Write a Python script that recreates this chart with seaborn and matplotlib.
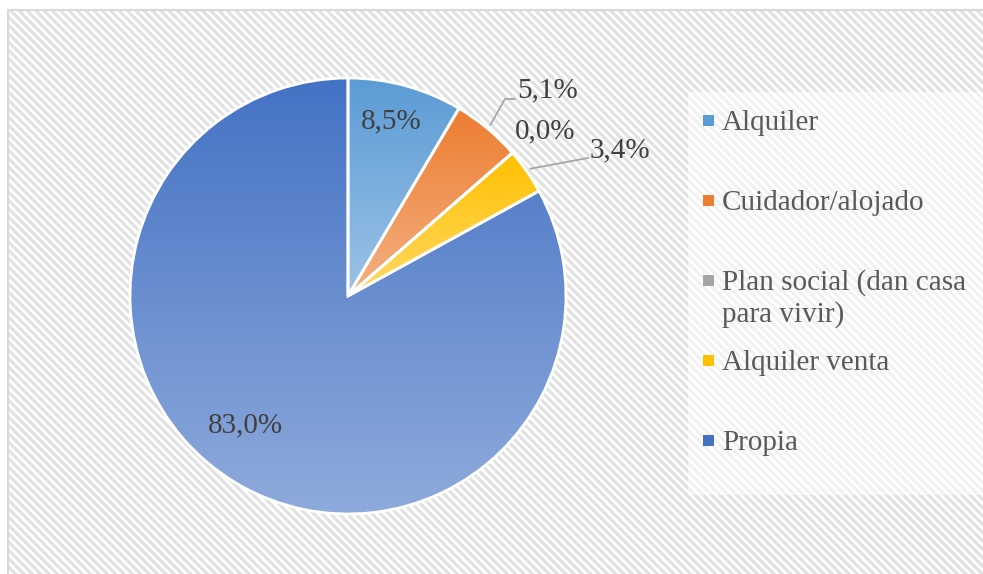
import numpy as np
import matplotlib
matplotlib.use('Agg')
import matplotlib.pyplot as plt
import matplotlib.patches as mpatches
from matplotlib.colors import to_rgb
import seaborn as sns

# Datos ==========================================================================
categories = ['Alquiler', 'Cuidador/alojado', 'Plan social (dan casa\npara vivir)',
              'Alquiler venta', 'Propia']
values = [8.5, 5.1, 0.0, 3.4, 83.0]
pct_labels = ['8,5%', '5,1%', '0,0%', '3,4%', '83,0%']
colors = ['#5B9BD5', '#ED7D31', '#A5A5A5', '#FFC000', '#4472C4']

sns.set_theme(style='white')
plt.rcParams['font.family'] = ['Liberation Serif', 'DejaVu Serif']
plt.rcParams['hatch.linewidth'] = 2.3

W, H = 983, 574
fig = plt.figure(figsize=(W / 100, H / 100), dpi=100)
fig.patch.set_facecolor('white')


def px(x, y):
    # pixel desde arriba-izquierda -> fraccion de figura
    return x / W, 1 - y / H


# Fondo rayado y borde ===========================================================
x0, y0 = px(8, 600)
bg = mpatches.Rectangle((x0, y0), 1.2, (600 - 10) / H, transform=fig.transFigure,
                        facecolor='white', edgecolor='#E2E2E2', hatch='\\\\\\\\', lw=0, zorder=0)
fig.add_artist(bg)
border = mpatches.Rectangle((x0, y0), 1.2, (600 - 10) / H, transform=fig.transFigure,
                            facecolor='none', edgecolor='#D9D9D9', lw=1.5, zorder=0.5)
fig.add_artist(border)

# caja semitransparente de la leyenda
lx, ly = px(688, 495)
fig.add_artist(mpatches.Rectangle((lx, ly), 1.0, (495 - 92) / H, transform=fig.transFigure,
                                  facecolor='white', alpha=0.55, lw=0, zorder=0.6))

# Pie ============================================================================
cx, cy, r = 348, 296, 218
ax = fig.add_axes([(cx - r) / W, 1 - (cy + r) / H, 2 * r / W, 2 * r / H])
wedges, _ = ax.pie(values, colors=colors, startangle=90, counterclock=False,
                   wedgeprops=dict(linewidth=0))

# degradado vertical en cada sector
for w, c, v in zip(wedges, colors, values):
    if v <= 0:
        continue
    th = np.radians(np.linspace(w.theta1, w.theta2, 400))
    xs = np.r_[0, np.cos(th)]
    ys = np.r_[0, np.sin(th)]
    top = np.array(to_rgb(c))
    bot = top + 0.4 * (1 - top)
    g = np.linspace(0, 1, 256)[:, None, None]
    img = top * (1 - g) + bot * g
    im = ax.imshow(img, extent=(xs.min(), xs.max(), ys.min(), ys.max()), origin='upper',
                   aspect='auto', interpolation='bilinear', zorder=1.5)
    im.set_clip_path(w)

for w in wedges:
    ax.add_patch(mpatches.Wedge(w.center, w.r, w.theta1, w.theta2, facecolor='none',
                                edgecolor='white', lw=2, zorder=3, clip_on=False))

# etiquetas de datos
label_xy = [(0.20, 0.80), (0.917, 0.945), (0.904, 0.757), (1.248, 0.67), (-0.472, -0.592)]
leader_pts = {1: [(0.720, 0.904), (0.766, 0.904)], 3: [(1.101, 0.633)]}
for i, (w, lab) in enumerate(zip(wedges, pct_labels)):
    ax.text(*label_xy[i], lab, ha='center', va='center', fontsize=21, color='#404040',
            zorder=4, clip_on=False)
    if i in leader_pts:
        mid = np.radians((w.theta1 + w.theta2) / 2)
        pts = [(1.02 * np.cos(mid), 1.02 * np.sin(mid))] + leader_pts[i]
        ax.plot(*zip(*pts), color='#A6A6A6', lw=1.3, clip_on=False, zorder=4)

ax.set_xlim(-1, 1)
ax.set_ylim(-1, 1)
ax.axis('off')

# Leyenda ========================================================================
for i, (cat, c) in enumerate(zip(categories, colors)):
    ycen = 120 + 80 * i
    sx, sy = px(703, ycen + 5.5)
    fig.add_artist(mpatches.Rectangle((sx, sy), 11 / W, 11 / H, transform=fig.transFigure,
                                      facecolor=c, lw=0, zorder=2))
    for k, line in enumerate(cat.split('\n')):
        tx, ty = px(722, ycen + 10 + 32 * k)
        fig.text(tx, ty, line, ha='left', va='baseline', fontsize=21, color='#595959')

plt.savefig('out.png', dpi=100)
